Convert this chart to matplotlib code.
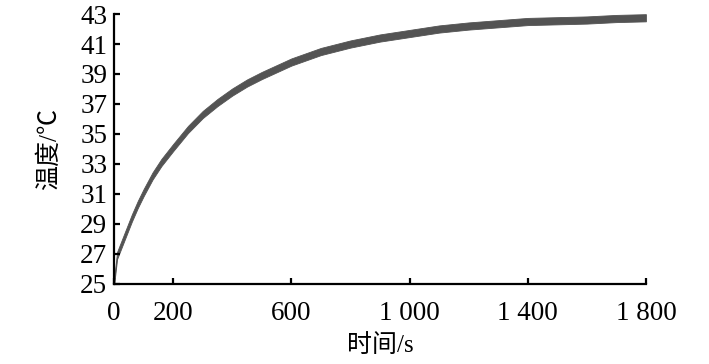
import numpy as np
import matplotlib
matplotlib.use("Agg")
import matplotlib.pyplot as plt

# temperature curve
time_s = [0, 10, 20, 40, 60, 80, 100, 130, 160, 200, 250, 300, 350, 400,
          450, 500, 600, 700, 800, 900, 1000, 1100, 1200, 1300, 1400,
          1500, 1600, 1700, 1800]
temp_c = [25.2, 26.9, 27.4, 28.4, 29.4, 30.3, 31.1, 32.2, 33.1, 34.1,
          35.3, 36.3, 37.1, 37.8, 38.4, 38.9, 39.8, 40.5, 41.0, 41.4,
          41.7, 42.0, 42.2, 42.35, 42.5, 42.55, 42.6, 42.7, 42.75]

x_ticks = [0, 200, 600, 1000, 1400, 1800]
x_labels = ["0", "200", "600", "1 000", "1 400", "1 800"]
y_ticks = list(range(25, 44, 2))

plt.rcParams["font.family"] = ["Liberation Serif", "Noto Sans CJK SC"]

fig = plt.figure(figsize=(7.09, 3.64), dpi=100)
ax = fig.add_axes([0.161, 0.22, 0.75, 0.7415])

t = np.array(time_s)
y = np.array(temp_c)
band = 0.24  # half height of the marker band in degrees
ax.fill_between(t, y - band, y + band, color="#535353", lw=0.6,
                edgecolor="#535353")

ax.set_xlim(0, 1800)
ax.set_ylim(25, 43)
ax.set_xticks(x_ticks)
ax.set_xticklabels(x_labels)
ax.set_yticks(y_ticks)

for side in ["top", "right"]:
    ax.spines[side].set_visible(False)
for side in ["left", "bottom"]:
    ax.spines[side].set_linewidth(1.6)

ax.tick_params(direction="in", length=4, width=1.6, labelsize=19.5)
ax.tick_params(axis="x", pad=12)
ax.tick_params(axis="y", pad=5)
ax.set_xlabel("时间/s", fontsize=18, labelpad=6)
ax.set_ylabel("温度/℃", fontsize=18, labelpad=14)

fig.savefig("out.png", dpi=100)
